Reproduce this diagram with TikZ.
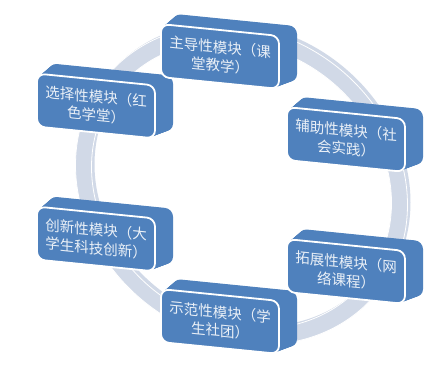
\documentclass[tikz,border=0pt]{standalone}
\usepackage{fontspec}
\newfontfamily\cjk{Noto Sans CJK SC}
\definecolor{boxblue}{HTML}{4F81BD}
\definecolor{ringc}{HTML}{D1D9E7}
\begin{document}
\begin{tikzpicture}[x=1pt,y=1pt,
  modbox/.style={fill=boxblue, draw=white, line width=1.8pt, rounded corners=8pt,
    minimum width=118pt, minimum height=53pt, inner sep=0pt, align=center,
    text=white!88!boxblue, font=\cjk\fontsize{14.5}{18.5}\selectfont, transform shape},
  extrude/.style={fill=boxblue, rounded corners=8pt}]
\useasboundingbox (0,0) rectangle (437,383);
\fill[white] (0,0) rectangle (437,383);
% ring
\begin{scope}[shift={(241.5,198)}, yslant=-0.12]
  \fill[ringc, even odd rule, shift={(3,3)}]
    (0,0) ellipse [x radius=166, y radius=158.5]
    (0,0) ellipse [x radius=150, y radius=142.5];
  \filldraw[fill=ringc, draw=white, line width=0.8pt, even odd rule]
    (0,0) ellipse [x radius=166, y radius=158.5]
    (0,0) ellipse [x radius=150, y radius=142.5];
\end{scope}
% modules
\foreach \cx/\cy/\nm/\txt in {
  96/144/chuangxin/{创新性模块（大\\学生科技创新）},
  96/277/xuanze/{选择性模块（红\\色学堂）},
  220/61.5/shifan/{示范性模块（学\\生社团）},
  346/111.5/tuozhan/{拓展性模块（网\\络课程）},
  346/243.5/fuzhu/{辅助性模块（社\\会实践）},
  220/326.5/zhudao/{主导性模块（课\\堂教学）}}{
  \begin{scope}[shift={(\cx,\cy)}, yslant=-0.1]
    \foreach \t in {0,1,...,20}{
      \fill[extrude] (\t*0.75-59-\t*0.15, \t*0.5-26.5-\t*0.075)
        rectangle (\t*0.75+59+\t*0.15, \t*0.5+26.5+\t*0.075);
    }
    \node[modbox] (\nm) at (0,0) {\txt};
  \end{scope}
}
\end{tikzpicture}
\end{document}
